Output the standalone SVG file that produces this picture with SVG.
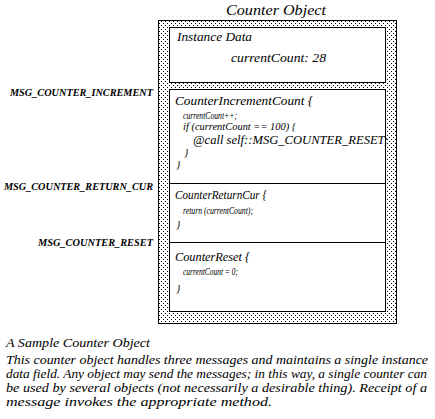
<svg xmlns="http://www.w3.org/2000/svg" width="435" height="419" viewBox="0 0 435 419">
<defs>
<pattern id="dots" x="0" y="0" width="4" height="4" patternUnits="userSpaceOnUse">
<rect width="4" height="4" fill="#fff"/>
<rect x="1" y="1" width="1" height="1" fill="#000"/>
<rect x="3" y="3" width="1" height="1" fill="#000"/>
</pattern>
</defs>
<style>
text{font-style:italic;fill:#000}
.t{font-size:15px}
.h{font-size:13px}
.a{font-size:11.5px}
.c{font-size:11px}
.m{font-size:10px;font-weight:bold}
.p{font-size:12px}
.box{fill:#fff;stroke:#000;stroke-width:1}
</style>
<rect width="435" height="419" fill="#fff"/>
<g font-family="Liberation Serif, DejaVu Serif, serif">
<g id="counter-object">
<rect x="158.5" y="20.5" width="238" height="303" fill="url(#dots)" stroke="#000" stroke-width="1"/>
<text class="t" x="226" y="15" textLength="100" lengthAdjust="spacingAndGlyphs">Counter  Object</text>
</g>
<g id="instance-data">
<rect class="box" x="169.5" y="27.5" width="216" height="55"/>
<text class="h" x="177" y="41" textLength="75" lengthAdjust="spacingAndGlyphs">Instance Data</text>
<text class="h" x="231" y="62" textLength="95" lengthAdjust="spacingAndGlyphs">currentCount: 28</text>
</g>
<g id="methods">
<rect class="box" x="169.5" y="89.5" width="216" height="222"/>
</g>
<g id="connectors">
<line x1="169.5" y1="183.5" x2="385.5" y2="183.5" stroke="#000" stroke-width="1"/>
<line x1="169.5" y1="242.5" x2="385.5" y2="242.5" stroke="#000" stroke-width="1"/>
</g>
<g id="increment-method">
<text class="h" x="175" y="105" textLength="138" lengthAdjust="spacingAndGlyphs">CounterIncrementCount {</text>
<text class="c" x="183" y="119" textLength="54" lengthAdjust="spacingAndGlyphs">currentCount++;</text>
<text class="c" x="183" y="130" textLength="113" lengthAdjust="spacingAndGlyphs">if (currentCount == 100) {</text>
<text class="a" x="193" y="144" textLength="195" lengthAdjust="spacingAndGlyphs">@call  self::MSG_COUNTER_RESET;</text>
<text class="c" x="184" y="156">}</text>
<text class="c" x="176" y="168">}</text>
</g>
<g id="returncur-method">
<text class="h" x="175" y="199" textLength="92" lengthAdjust="spacingAndGlyphs">CounterReturnCur {</text>
<text class="c" x="183" y="214" textLength="70" lengthAdjust="spacingAndGlyphs">return  (currentCount);</text>
<text class="c" x="176" y="228">}</text>
</g>
<g id="reset-method">
<text class="h" x="175" y="261" textLength="75" lengthAdjust="spacingAndGlyphs">CounterReset {</text>
<text class="c" x="183" y="275" textLength="55" lengthAdjust="spacingAndGlyphs">currentCount  =  0;</text>
<text class="c" x="176" y="292">}</text>
</g>
<g id="messages">
<text class="m" x="10" y="96" textLength="143" lengthAdjust="spacingAndGlyphs">MSG_COUNTER_INCREMENT</text>
<text class="m" x="4" y="190" textLength="149" lengthAdjust="spacingAndGlyphs">MSG_COUNTER_RETURN_CUR</text>
<text class="m" x="38" y="246" textLength="115" lengthAdjust="spacingAndGlyphs">MSG_COUNTER_RESET</text>
</g>
<g id="caption">
<text class="p" x="6" y="347" textLength="144" lengthAdjust="spacingAndGlyphs">A Sample Counter Object</text>
<text class="p" x="6" y="364" textLength="422" lengthAdjust="spacingAndGlyphs">This counter object handles three messages and maintains a single instance</text>
<text class="p" x="6" y="378" textLength="421" lengthAdjust="spacingAndGlyphs">data field. Any object may send the messages; in this way, a single counter can</text>
<text class="p" x="6" y="392" textLength="421" lengthAdjust="spacingAndGlyphs">be used by several objects (not necessarily a desirable thing). Receipt of a</text>
<text class="p" x="6" y="406" textLength="266" lengthAdjust="spacingAndGlyphs">message invokes the appropriate method.</text>
</g>
</g>
</svg>
